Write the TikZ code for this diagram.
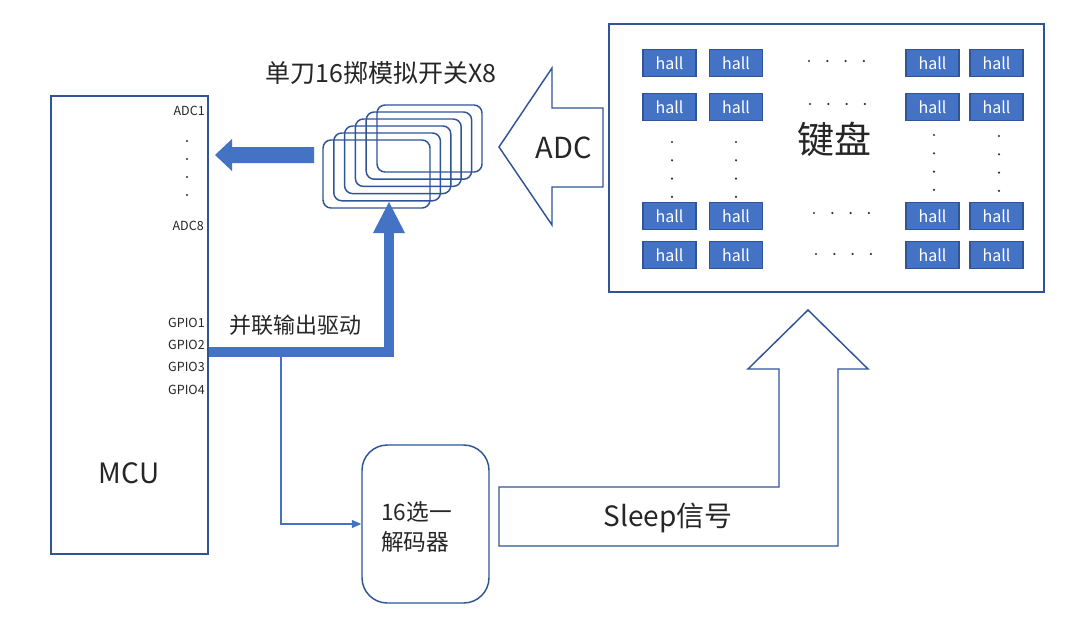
\documentclass[tikz,border=0pt]{standalone}
\usepackage{fontspec}
\setmainfont{Noto Sans CJK SC}
\usetikzlibrary{fit,arrows.meta}
\definecolor{edgeblue}{RGB}{47,85,151}
\definecolor{fillblue}{RGB}{68,114,196}
\tikzset{
  x=0.75pt,y=-0.75pt,
  outl/.style={draw=edgeblue,line width=1.1pt},
  boxfit/.style={outl,inner sep=0pt},
  lbl/.style={inner sep=0pt,text=black!85,font=\fontsize{9.4}{11}\selectfont},
  hallbox/.style={draw=edgeblue,fill=fillblue,line width=0.9pt,minimum width=39.75pt,minimum height=20.25pt,inner sep=0pt,text=white,font=\fontsize{12}{14}\selectfont},
  kdot/.style={fill=black!80,circle,inner sep=0pt,minimum size=1.8pt},
  swbox/.style={outl,rounded corners=6pt},
  thickarrow/.style={fill=fillblue,draw=none},
  txt/.style={inner sep=0pt,text=black!85}
}
\begin{document}
\begin{tikzpicture}
\useasboundingbox[fill=white] (0,0) rectangle (1080,625);

% MCU
\node[boxfit,fit={(51,96)(208,554)}] (mcu) {};
\node[txt,font=\fontsize{21}{24}\selectfont] (mcutxt) at (129,473) {MCU};
\node[lbl,anchor=east] (adc1) at (205,111) {ADC1};
\foreach \i/\yy in {1/141,2/159,3/177,4/195}
  \node[kdot,minimum size=1.6pt] (md\i) at (187,\yy) {};
\node[lbl,anchor=east] (adc8) at (204,226) {ADC8};
\node[lbl,anchor=east] (g1) at (205,323) {GPIO1};
\node[lbl,anchor=east] (g2) at (205,345) {GPIO2};
\node[lbl,anchor=east] (g3) at (205,367) {GPIO3};
\node[lbl,anchor=east] (g4) at (205,390) {GPIO4};

% switch stack
\foreach \i in {0,...,5}{
  \pgfmathsetmacro{\xa}{323+10.8*\i}
  \pgfmathsetmacro{\ya}{140-7*\i}
  \pgfmathsetmacro{\xb}{430+10.4*\i}
  \pgfmathsetmacro{\yb}{208-7.2*\i}
  \node[boxfit,rounded corners=6pt,fit={(\xa,\ya)(\xb,\yb)}] (sw\i) {};
}
\node[txt,font=\fontsize{18.75}{22}\selectfont] (swtitle) at (381,73) {单刀16掷模拟开关X8};

% left thick arrow into MCU
\fill[thickarrow] (314,147) -- (232,147) -- (232,139) -- (215,155) -- (232,171) -- (232,163) -- (314,163) -- cycle;

% parallel drive arrow
\coordinate (drvcorner) at (389,352);
\draw[draw=fillblue,line width=7pt,line join=miter] (mcu.east |- drvcorner) -- (drvcorner) -- (389,233);
\fill[thickarrow] (373,233) -- (389,202) -- (405,233) -- cycle;
\node[txt,font=\fontsize{16.5}{20}\selectfont] (drv) at (295,325) {并联输出驱动};

% decoder
\node[boxfit,rounded corners=19pt,fit={(362,445)(489,603)}] (dec) {};
\node[txt,anchor=west,align=left,font=\fontsize{17}{22}\selectfont] (dectxt) at (381,527) {16选一\\解码器};
\coordinate (tap) at (281,357);
\draw[fillblue,line width=0.8pt,-{Triangle[length=7pt,width=6pt]}] (tap) |- (dec.west);

% ADC big arrow
\draw[outl,line join=miter] (603,108) -- (552,108) -- (552,68) -- (499,147) -- (552,225) -- (552,187) -- (603,187) -- cycle;
\node[txt,font=\fontsize{21.75}{24}\selectfont] (adc) at (564,148) {ADC};

% keyboard
\node[boxfit,fit={(609,24)(1044,292)}] (kb) {};
\node[txt,font=\fontsize{27.75}{30}\selectfont] (kbtxt) at (834,139) {键盘};
\foreach \c/\xx in {1/669.5,2/736,3/932.5,4/996.5}
  \foreach \r/\yy in {1/63,2/107,3/216,4/255}
    \node[hallbox] (h\r\c) at (\xx,\yy) {hall};
\foreach \r/\yy/\xo in {1/61/809,2/104/810,3/213/814,4/254/816}
  \foreach \k in {0,...,3}
    \node[kdot] (hd\r\k) at (\xo+18.3*\k,\yy) {};
\foreach \c/\xx/\yo in {1/672/142,2/736/142,3/934/135,4/999/136}
  \foreach \k in {0,...,3}
    \node[kdot] (vd\c\k) at (\xx,\yo+18.3*\k) {};

% Sleep arrow
\draw[outl,line join=miter] (499,487) -- (779,487) -- (779,369) -- (748,369) -- (808,310) -- (868,369) -- (838,369) -- (838,546) -- (499,546) -- cycle;
\node[txt,font=\fontsize{21}{24}\selectfont] (sleep) at (668,518) {Sleep信号};
\end{tikzpicture}
\end{document}
